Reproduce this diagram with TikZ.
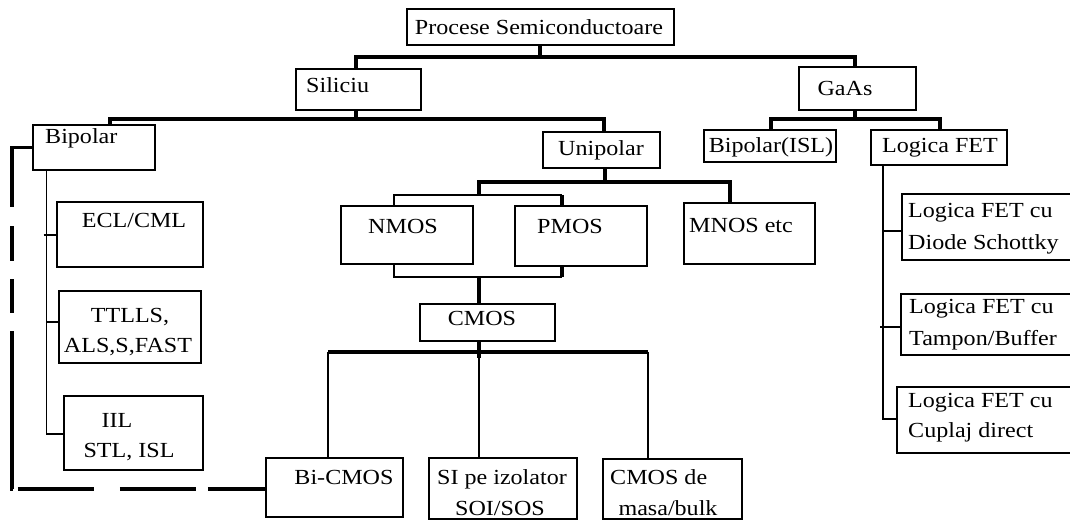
\documentclass[tikz,border=0pt]{standalone}
\usepackage{fontspec}
\setmainfont{Liberation Serif}[FakeStretch=1.12]
\usetikzlibrary{fit}
\begin{document}
\begin{tikzpicture}[x=1pt,y=-1pt,
  box/.style={draw, line width=1.6pt, inner sep=0pt, rectangle},
  lbl/.style={inner sep=0pt, font=\fontsize{21.5}{26}\selectfont},
  thickline/.style={line width=3.4pt},
  thinline/.style={line width=1.7pt},
  dashline/.style={line width=3.6pt, dash pattern=on 80pt off 19pt on 35pt off 18pt on 34pt off 18pt on 158.5pt off 5pt on 76pt off 26pt on 76pt off 12pt on 60pt off 100pt}]
\clip (0,0) rectangle (1070,521);
\fill[white] (0,0) rectangle (1070,521);
% boxes
\node[box, fit={(407,9) (674,45)}] (proc) {};
\node[box, fit={(296,69) (421,110)}] (sil) {};
\node[box, fit={(799,67) (916,110)}] (gaas) {};
\node[box, fit={(33,125) (155,170)}] (bip) {};
\node[box, fit={(543,132) (660,168)}] (uni) {};
\node[box, fit={(704,130) (836,162)}] (bisl) {};
\node[box, fit={(871,130) (1007,165)}] (lfet) {};
\node[box, fit={(57,202) (203,267)}] (ecl) {};
\node[box, fit={(59,291) (201,363)}] (ttl) {};
\node[box, fit={(64,396) (203,470)}] (iil) {};
\node[box, fit={(341,206) (473,264)}] (nmos) {};
\node[box, fit={(515,206) (647,266)}] (pmos) {};
\node[box, fit={(684,203) (815,264)}] (mnos) {};
\node[box, fit={(420,304) (555,341)}] (cmos) {};
\node[box, fit={(266,458) (403,517)}] (bicmos) {};
\node[box, fit={(429,458) (577,519)}] (soi) {};
\node[box, fit={(603,459) (742,519)}] (masa) {};
\node[box, fit={(902,194) (1085,260)}] (lf1) {};
\node[box, fit={(901,294) (1085,355)}] (lf2) {};
\node[box, fit={(897,387) (1085,453)}] (lf3) {};
% labels
\node[lbl, anchor=base] (tproc) at (539,35) {Procese Semiconductoare};
\node[lbl, anchor=base west] (tsil) at (306,93) {Siliciu};
\node[lbl, anchor=base] (tgaas) at (845,96) {GaAs};
\node[lbl, anchor=base west] (tbip) at (45,144) {Bipolar};
\node[lbl, anchor=base] (tuni) at (601,156) {Unipolar};
\node[lbl, anchor=base] (tbisl) at (771,153) {Bipolar(ISL)};
\node[lbl, anchor=base] (tlfet) at (940,153) {Logica FET};
\node[lbl, anchor=base] (tecl) at (134,228) {ECL/CML};
\node[lbl, anchor=base] (tttl1) at (130,322) {TTLLS,};
\node[lbl, anchor=base] (tttl2) at (128,352) {ALS,S,FAST};
\node[lbl, anchor=base] (tiil1) at (117,427) {IIL};
\node[lbl, anchor=base] (tiil2) at (129,457) {STL, ISL};
\node[lbl, anchor=base] (tnmos) at (403,234) {NMOS};
\node[lbl, anchor=base] (tpmos) at (570,234) {PMOS};
\node[lbl, anchor=base west] (tmnos) at (689,233) {MNOS etc};
\node[lbl, anchor=base] (tcmos) at (482,325) {CMOS};
\node[lbl, anchor=base] (tbicmos) at (344,484) {Bi-CMOS};
\node[lbl, anchor=base] (tsoi1) at (502,484) {SI pe izolator};
\node[lbl, anchor=base] (tsoi2) at (500,515) {SOI/SOS};
\node[lbl, anchor=base west] (tmasa1) at (610,484) {CMOS de};
\node[lbl, anchor=base] (tmasa2) at (668,515) {masa/bulk};
\node[lbl, anchor=base west] (tlf1a) at (908,218) {Logica FET cu};
\node[lbl, anchor=base west] (tlf1b) at (908,250) {Diode Schottky};
\node[lbl, anchor=base west] (tlf2a) at (909,313) {Logica FET cu};
\node[lbl, anchor=base west] (tlf2b) at (909,345) {Tampon/Buffer};
\node[lbl, anchor=base west] (tlf3a) at (908,407) {Logica FET cu};
\node[lbl, anchor=base west] (tlf3b) at (908,437) {Cuplaj direct};
% junction coordinates
\coordinate (jP) at (540,57);
\coordinate (jPL) at (356,57);
\coordinate (jPR) at (855,57);
\coordinate (jS) at (356,119);
\coordinate (jSL) at (110,119);
\coordinate (jSR) at (604,119);
\coordinate (jG) at (855,119);
\coordinate (jGL) at (771,119);
\coordinate (jGR) at (940,119);
\coordinate (jU) at (605,182);
\coordinate (jUL) at (479,182);
\coordinate (jUR) at (730,182);
\coordinate (jNP) at (479,195);
\coordinate (jNPL) at (394,195);
\coordinate (jNPR) at (562,195);
\coordinate (jB) at (479,277);
\coordinate (jBL) at (394,277);
\coordinate (jBR) at (562,277);
\coordinate (jC) at (479,352);
\coordinate (jCL) at (328,352);
\coordinate (jCR) at (648,352);
\coordinate (jB1) at (46.5,235);
\coordinate (jB2) at (46.5,322);
\coordinate (jB3) at (46.5,434);
\coordinate (jL1) at (883,231);
\coordinate (jL2) at (883,327);
\coordinate (jL3) at (883,419);
\coordinate (jD) at (12,489);
% connectors
\draw[thickline] (proc.south -| jP) -- (jP);
\draw[thickline] (sil.north -| jPL) -- (jPL) -- (jPR) -- (gaas.north -| jPR);
\draw[thickline] (sil.south -| jS) -- (jS);
\draw[thickline] (bip.north -| jSL) -- (jSL) -- (jSR) -- (uni.north -| jSR);
\draw[thickline] (gaas.south -| jG) -- (jG);
\draw[thickline] (bisl.north -| jGL) -- (jGL) -- (jGR) -- (lfet.north -| jGR);
\draw[thickline] (uni.south -| jU) -- (jU);
\draw[thickline] (jNP) -- (jUL) -- (jUR) -- (mnos.north -| jUR);
\draw[thinline] (nmos.north -| jNPL) -- (jNPL) -- (jNPR);
\draw[thickline] (jNPR) -- (pmos.north -| jNPR);
\draw[thinline] (nmos.south -| jBL) -- (jBL) -- (jBR);
\draw[thickline] (pmos.south -| jBR) -- (jBR);
\draw[thickline] (jB) -- (cmos.north -| jB);
\draw[thickline] (cmos.south -| jC) -- ([yshift=-6pt]jC);
\draw[thickline] (jCL) -- (jCR);
\draw[thinline] (bicmos.north -| jCL) -- (jCL);
\draw[thinline] (soi.north -| jC) -- (jC);
\draw[thinline] (masa.north -| jCR) -- (jCR);
\draw[thinline] (bip.south -| jB1) -- (jB3) -- (iil.west |- jB3);
\draw[thinline] ([xshift=-3pt]jB1) -- (ecl.west |- jB1);
\draw[thinline] (jB2) -- (ttl.west |- jB2);
\draw[thinline] (lfet.south -| jL1) -- (jL3) -- (lf3.west |- jL3);
\draw[thinline] (jL1) -- (lf1.west |- jL1);
\draw[thinline] ([xshift=-3pt]jL2) -- (lf2.west |- jL2);
\draw[dashline] (bip.west) -| (jD) -- (bicmos.west |- jD);
\end{tikzpicture}
\end{document}
